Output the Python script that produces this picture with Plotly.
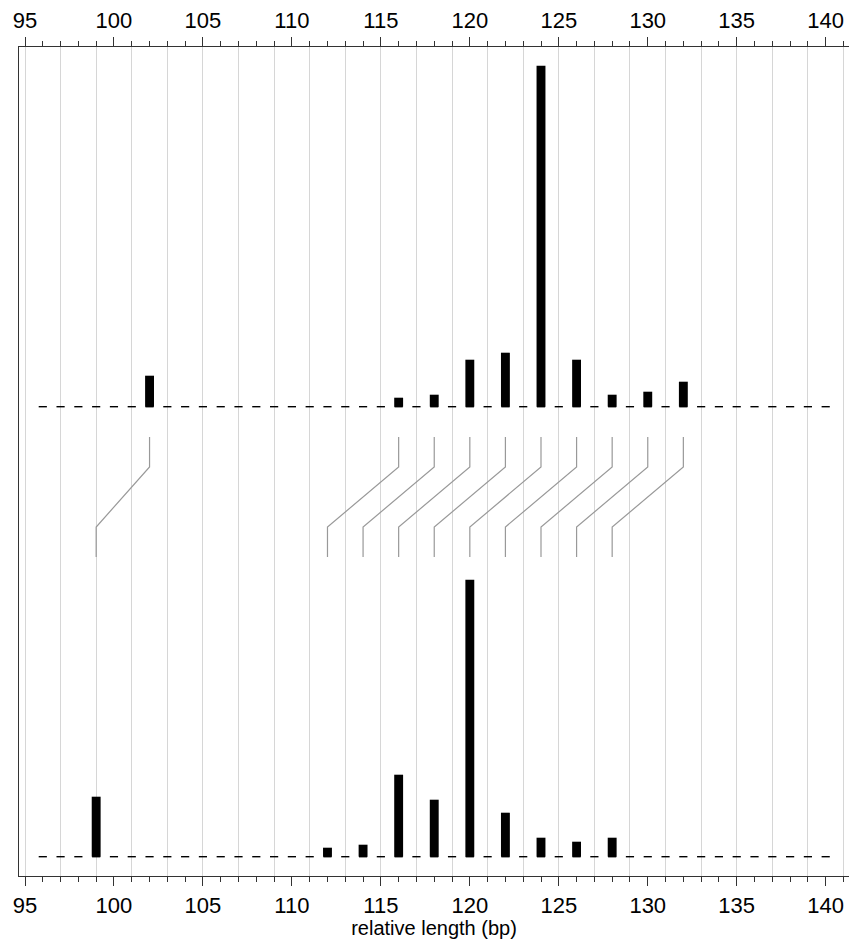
import plotly.graph_objects as go

# ---- data ----
top_pos = [102, 116, 118, 120, 122, 124, 126, 128, 130, 132]
top_val = [31, 9, 12, 47, 54, 341, 47, 12, 15, 25]
bottom_pos = [99, 112, 114, 116, 118, 120, 122, 124, 126, 128]
bottom_val = [60, 9, 12, 82, 57, 277, 44, 19, 15, 19]
baseline_positions = list(range(96, 141))
tick_labels = [95, 100, 105, 110, 115, 120, 125, 130, 135, 140]

# ---- layout constants ----
TOP_BASE = 450
X_RANGE = [94.663, 141.31]
Y_RANGE = [-19.3, 809.7]
AX_COLOR = "#333333"
FONT = "Liberation Sans, Arial, Helvetica, sans-serif"

fig = go.Figure()

# dashed baselines
for base in (0, TOP_BASE):
    xs, ys = [], []
    for p in baseline_positions:
        xs += [p - 0.23, p + 0.23, None]
        ys += [base, base, None]
    fig.add_trace(go.Scatter(x=xs, y=ys, mode="lines",
                             line=dict(color="black", width=1.4),
                             hoverinfo="skip", showlegend=False))

# connector lines (top peak -> bottom peak)
cx, cy = [], []
for t, b in zip(top_pos, bottom_pos):
    cx += [t, t, b, b, None]
    cy += [419.7, 389.7, 329.7, 299.7, None]
fig.add_trace(go.Scatter(x=cx, y=cy, mode="lines",
                         line=dict(color="#999999", width=1.2),
                         hoverinfo="skip", showlegend=False))

# bars
fig.add_trace(go.Bar(x=top_pos, y=top_val, base=TOP_BASE, width=0.5,
                     marker=dict(color="black", line=dict(width=0)),
                     showlegend=False))
fig.add_trace(go.Bar(x=bottom_pos, y=bottom_val, base=0, width=0.5,
                     marker=dict(color="black", line=dict(width=0)),
                     showlegend=False))

# invisible traces to anchor grid and top axes
fig.add_trace(go.Scatter(x=[100], y=[0], xaxis="x2", mode="markers",
                         marker=dict(opacity=0), hoverinfo="skip", showlegend=False))
fig.add_trace(go.Scatter(x=[100], y=[0], xaxis="x3", mode="markers",
                         marker=dict(opacity=0), hoverinfo="skip", showlegend=False))

common_ticks = dict(
    range=X_RANGE,
    tickmode="array", tickvals=tick_labels, ticktext=[str(v) for v in tick_labels],
    ticks="outside", ticklen=9, tickwidth=1.3, tickcolor=AX_COLOR,
    minor=dict(dtick=1, tick0=95, ticks="outside", ticklen=5, tickwidth=1.1,
               tickcolor=AX_COLOR, showgrid=False),
    showline=True, linecolor=AX_COLOR, linewidth=1.3,
    showgrid=False, zeroline=False,
    tickfont=dict(size=22, color="black", family=FONT),
)

fig.update_layout(
    width=849, height=939,
    margin=dict(l=19, r=0, t=47, b=63),
    plot_bgcolor="white", paper_bgcolor="white",
    barmode="overlay",
    font=dict(family=FONT, color="black"),
    xaxis=dict(**common_ticks, side="bottom",
               title=dict(text="relative length (bp)",
                          font=dict(size=20, family=FONT, color="black"),
                          standoff=6)),
    xaxis2=dict(range=X_RANGE, overlaying="x", tick0=95, dtick=2,
                showgrid=True, gridcolor="#d6d6d6", gridwidth=1,
                showticklabels=False, ticks="", showline=False, zeroline=False),
    xaxis3=dict(**common_ticks, side="top", overlaying="x"),
    yaxis=dict(range=Y_RANGE, showline=True, linecolor=AX_COLOR, linewidth=1.3,
               showticklabels=False, ticks="", showgrid=False, zeroline=False),
)

fig.write_html("out.html")
